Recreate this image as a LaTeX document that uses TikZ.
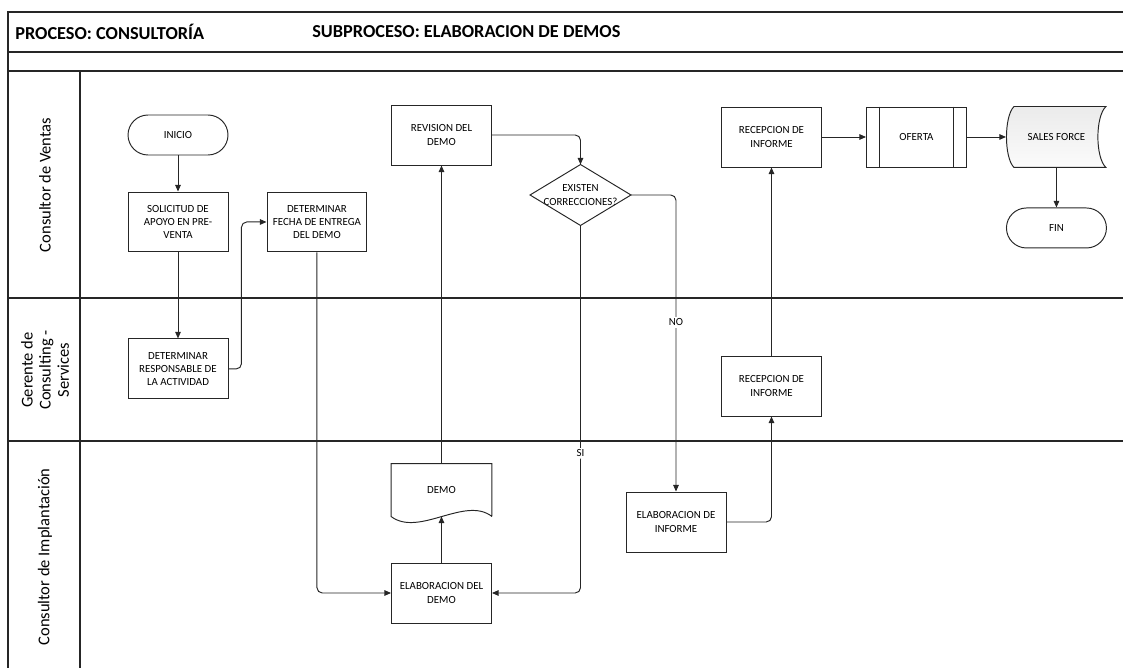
\documentclass[tikz,border=0pt]{standalone}
\usepackage{fontspec}
\setmainfont{Carlito}
\usetikzlibrary{arrows.meta,backgrounds}

\begin{document}
\begin{tikzpicture}[x=0.02cm, y=-0.02cm,
  lane/.style = {draw=black!85, line width=0.9pt},
  box/.style = {draw=black!85, line width=0.55pt, minimum width=2cm, minimum height=1.2cm, align=center, inner sep=1pt, font=\fontsize{6.2}{7.6}\selectfont},
  term/.style = {box, minimum height=0.8cm, rounded corners=0.4cm},
  free/.style = {box, draw=none},
  lbl/.style = {font=\fontsize{6.2}{7.6}\selectfont, fill=white, inner sep=1pt},
  lanename/.style = {rotate=90, align=center, font=\fontsize{9.4}{10.3}\selectfont},
  flow/.style = {draw=black!85, line width=0.55pt, -{Triangle[length=3.8pt,width=3.2pt]}, rounded corners=3pt}]
  \useasboundingbox (0,0) rectangle (1123,668);
  \draw[lane] (1123,12) -- (8,12) -- (8,668);
  \draw[lane] (8,52) -- (1123,52);
  \draw[lane] (8,71) -- (1123,71);
  \draw[lane] (80,71) -- (80,668);
  \draw[lane] (8,298) -- (1123,298);
  \draw[lane] (8,441) -- (1123,441);

  \node[anchor=west, inner sep=0, font=\bfseries\fontsize{10.4}{12}\selectfont] (proc) at (15,32) {PROCESO: CONSULTORÍA};
  \node[anchor=west, inner sep=0, font=\bfseries\fontsize{10.4}{12}\selectfont] (subp) at (312,32) {SUBPROCESO: ELABORACION DE DEMOS};
  \node[lanename] (ventas) at (45,185) {Consultor de Ventas};
  \node[lanename] (gerente) at (45,370) {Gerente de\\Consulting -\\Services};
  \node[lanename] (implant) at (45,557) {Consultor de Implantación};

  \node[term] (ini) at (178,135) {INICIO};
  \node[box, node distance=1.74cm, below of=ini] (sol) {SOLICITUD DE\\APOYO EN PRE-\\VENTA};
  \node[box, node distance=2.94cm, below of=sol] (rs) {DETERMINAR\\RESPONSABLE DE\\LA ACTIVIDAD};
  \node[box, node distance=2.78cm, right of=sol] (fe) {DETERMINAR\\FECHA DE ENTREGA\\DEL DEMO};
  \node[box] (rv) at (441.5,135) {REVISION DEL\\DEMO};
  \node[free] (ex) at (580.5,195) {EXISTEN\\CORRECCIONES?};
  \node[box] (ed) at (441.5,593) {ELABORACION DEL\\DEMO};
  \node[free, minimum height=1.04cm, node distance=2.06cm, above of=ed] (dm) {DEMO};
  \node[box] (rV) at (771.5,137) {RECEPCION DE\\INFORME};
  \node[box, node distance=2.9cm, right of=rV] (oferta) {OFERTA};
  \node[free, node distance=2.8cm, right of=oferta] (sf) {SALES FORCE};
  \node[term, node distance=1.82cm, below of=sf] (fin) {FIN};
  \node[box] (rg) at (771.5,386) {RECEPCION DE\\INFORME};
  \node[box] (ei) at (676,522) {ELABORACION DE\\INFORME};

  \draw[box] (ex.north) -- (ex.east) -- (ex.south) -- (ex.west) -- cycle;
  \draw[box] ([xshift=0.26cm]oferta.north west) -- ([xshift=0.26cm]oferta.south west);
  \draw[box] ([xshift=-0.26cm]oferta.north east) -- ([xshift=-0.26cm]oferta.south east);
  \draw[box] (dm.south east) -- (dm.north east) -- (dm.north west) -- (dm.south west)
    .. controls ([xshift=0.56cm,yshift=-0.42cm]dm.south west) and ([xshift=-0.54cm,yshift=0.42cm]dm.south east) .. (dm.south east);
  \begin{scope}[on background layer]
    \draw[box, top color=gray!16, bottom color=gray!3]
      ([xshift=0.16cm]sf.north west) -- ([xshift=-0.02cm]sf.north east)
      .. controls ([xshift=-0.234cm,yshift=-0.2cm]sf.north east) and ([xshift=-0.234cm,yshift=0.2cm]sf.south east) .. ([xshift=-0.02cm]sf.south east)
      -- ([xshift=0.16cm]sf.south west)
      .. controls ([xshift=-0.04cm,yshift=0.2cm]sf.south west) and ([xshift=-0.04cm,yshift=-0.2cm]sf.north west) .. ([xshift=0.16cm]sf.north west) -- cycle;
  \end{scope}

  \draw[flow] (ini) -- (sol);
  \draw[flow] (sol) -- (rs);
  \draw[flow] (rs.east) -- ++(13,0) |- (fe.west);
  \draw[flow] (fe.south) |- (ed.west);
  \draw[flow] (ed) -- (dm.south);
  \draw[flow] (dm) -- (rv);
  \draw[flow] (rv.east) -| (ex.north);
  \draw[flow] (ex.south) |- node[lbl, pos=0.31] (lsi) {SI} (ed.east);
  \draw[flow] (ex.east) -| node[lbl, pos=0.715] (lno) {NO} (ei.north);
  \draw[flow] (ei.east) -| (rg.south);
  \draw[flow] (rg) -- (rV);
  \draw[flow] (rV) -- (oferta);
  \draw[flow] (oferta) -- (sf);
  \draw[flow] (sf) -- (fin);
\end{tikzpicture}
\end{document}
